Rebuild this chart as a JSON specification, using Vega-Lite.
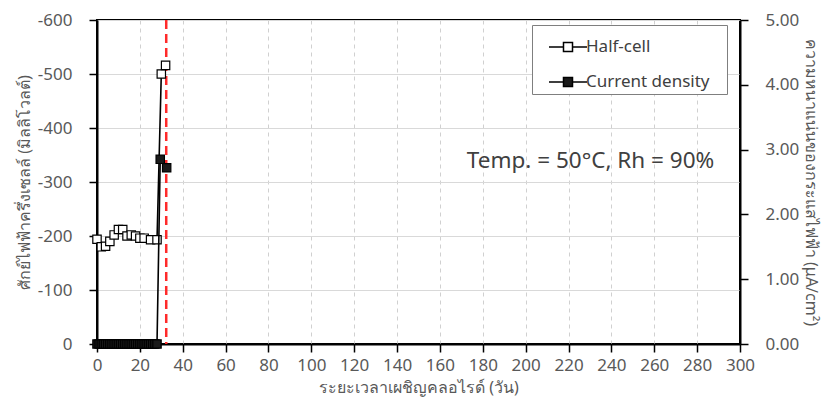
{
  "$schema": "https://vega.github.io/schema/vega-lite/v6.json",
  "width": 643,
  "height": 324,
  "padding": {"left": 16, "top": 11, "right": 5, "bottom": 5},
  "config": {
    "font": "Noto Sans",
    "view": {"stroke": "black", "strokeWidth": 2},
    "axis": {
      "labelFontSize": 17, "labelColor": "#595959", "titleColor": "#595959",
      "titleFontSize": 16, "titleFontWeight": "normal",
      "domainColor": "black", "domainWidth": 2,
      "tickColor": "black", "tickWidth": 1.5, "tickSize": 8
    },
    "axisX": {"labelPadding": 5, "labelFlush": false, "titlePadding": 6},
    "axisLeft": {"labelPadding": 17, "titlePadding": 5},
    "axisRight": {"labelPadding": 17, "titlePadding": 4},
    "legend": {
      "orient": "none", "legendX": 435, "legendY": 5,
      "strokeColor": "#7f7f7f", "fillColor": "white", "padding": 4,
      "labelFontSize": 17, "labelColor": "#404040", "labelOffset": 0,
      "symbolOffset": 14,
      "symbolType": "M-1.118,0H-0.265M0.265,0H1.118M-0.265,-0.265H0.265V0.265H-0.265Z",
      "symbolSize": 1156, "symbolStrokeColor": "black", "symbolStrokeWidth": 1.5,
      "rowPadding": 9,
      "titleOrient": "right", "titlePadding": 9, "titleFontSize": 17, "titleColor": "white"
    }
  },
  "datasets": {
    "main": [
      {"day": 0, "series": "Half-cell", "value": -194},
      {"day": 2, "series": "Half-cell", "value": -180},
      {"day": 4, "series": "Half-cell", "value": -181},
      {"day": 6, "series": "Half-cell", "value": -190},
      {"day": 8, "series": "Half-cell", "value": -202},
      {"day": 10, "series": "Half-cell", "value": -212},
      {"day": 12, "series": "Half-cell", "value": -212},
      {"day": 14, "series": "Half-cell", "value": -200},
      {"day": 16, "series": "Half-cell", "value": -202},
      {"day": 18, "series": "Half-cell", "value": -200},
      {"day": 20, "series": "Half-cell", "value": -196},
      {"day": 22, "series": "Half-cell", "value": -196},
      {"day": 25, "series": "Half-cell", "value": -193},
      {"day": 28, "series": "Half-cell", "value": -193},
      {"day": 30, "series": "Half-cell", "value": -500},
      {"day": 32, "series": "Half-cell", "value": -516},
      {"day": 0, "series": "Current density", "value": 0},
      {"day": 1, "series": "Current density", "value": 0},
      {"day": 2, "series": "Current density", "value": 0},
      {"day": 3, "series": "Current density", "value": 0},
      {"day": 4, "series": "Current density", "value": 0},
      {"day": 5, "series": "Current density", "value": 0},
      {"day": 6, "series": "Current density", "value": 0},
      {"day": 7, "series": "Current density", "value": 0},
      {"day": 8, "series": "Current density", "value": 0},
      {"day": 9, "series": "Current density", "value": 0},
      {"day": 10, "series": "Current density", "value": 0},
      {"day": 11, "series": "Current density", "value": 0},
      {"day": 12, "series": "Current density", "value": 0},
      {"day": 13, "series": "Current density", "value": 0},
      {"day": 14, "series": "Current density", "value": 0},
      {"day": 15, "series": "Current density", "value": 0},
      {"day": 16, "series": "Current density", "value": 0},
      {"day": 17, "series": "Current density", "value": 0},
      {"day": 18, "series": "Current density", "value": 0},
      {"day": 19, "series": "Current density", "value": 0},
      {"day": 20, "series": "Current density", "value": 0},
      {"day": 21, "series": "Current density", "value": 0},
      {"day": 22, "series": "Current density", "value": 0},
      {"day": 23, "series": "Current density", "value": 0},
      {"day": 24, "series": "Current density", "value": 0},
      {"day": 25, "series": "Current density", "value": 0},
      {"day": 26, "series": "Current density", "value": 0},
      {"day": 27, "series": "Current density", "value": 0},
      {"day": 28, "series": "Current density", "value": 0},
      {"day": 29.5, "series": "Current density", "value": 2.85},
      {"day": 32.5, "series": "Current density", "value": 2.72}
    ],
    "cutoff": [{"day": 32.3}],
    "note": [{"day": 288, "value": -339, "label": "Temp. = 50°C, Rh = 90%"}]
  },
  "layer": [
    {
      "layer": [
        {
          "data": {"name": "cutoff"},
          "mark": {"type": "rule", "color": "#ff2a2a", "strokeWidth": 2.5, "strokeDash": [9, 5]},
          "encoding": {
            "x": {"field": "day", "type": "quantitative", "scale": {"domain": [0, 300], "nice": false},
              "axis": {"values": [0,20,40,60,80,100,120,140,160,180,200,220,240,260,280,300],
                "grid": true, "gridColor": "#d0d0d0", "gridDash": [4, 4], "gridWidth": 1,
                "title": "ระยะเวลาเผชิญคลอไรด์ (วัน)"}}
          }
        },
        {
          "data": {"name": "main"},
          "transform": [{"filter": "datum.series == 'Half-cell'"}],
          "mark": {"type": "line", "color": "black", "strokeWidth": 1.6},
          "encoding": {
            "x": {"field": "day", "type": "quantitative"},
            "y": {"field": "value", "type": "quantitative", "scale": {"domain": [0, -600], "nice": false},
              "axis": {"values": [-600,-500,-400,-300,-200,-100,0], "grid": true, "gridColor": "#d9d9d9", "gridWidth": 1,
                "labelExpr": "datum.value == 0 ? '0' : '-' + abs(datum.value)",
                "title": "ศักย์ไฟฟ้าครึ่งเซลล์ (มิลลิโวลต์)"}}
          }
        },
        {
          "data": {"name": "main"},
          "transform": [{"filter": "datum.series == 'Half-cell'"}],
          "mark": {"type": "point", "shape": "square", "filled": true, "size": 70, "stroke": "black", "strokeWidth": 1.2, "opacity": 1},
          "encoding": {
            "x": {"field": "day", "type": "quantitative"},
            "y": {"field": "value", "type": "quantitative"},
            "fill": {"field": "series", "type": "nominal", "scale": {"domain": ["Half-cell", "Current density"], "range": ["white", "#1a1a1a"]},
              "legend": {"title": "."}}
          }
        },
        {
          "data": {"name": "note"},
          "mark": {"type": "text", "align": "right", "baseline": "middle", "fontSize": 22.5, "color": "#404040"},
          "encoding": {
            "x": {"field": "day", "type": "quantitative"},
            "y": {"field": "value", "type": "quantitative"},
            "text": {"field": "label"}
          }
        }
      ]
    },
    {
      "layer": [
        {
          "data": {"name": "main"},
          "transform": [{"filter": "datum.series == 'Current density'"}],
          "mark": {"type": "line", "color": "black", "strokeWidth": 1.6},
          "encoding": {
            "x": {"field": "day", "type": "quantitative"},
            "y": {"field": "value", "type": "quantitative", "scale": {"domain": [0, 5], "nice": false},
              "axis": {"orient": "right", "values": [0,1,2,3,4,5], "format": ".2f", "grid": false,
                "title": "ความหนาแน่นของกระแสไฟฟ้า (μA/cm²)", "titleAngle": 90}}
          }
        },
        {
          "data": {"name": "main"},
          "transform": [{"filter": "datum.series == 'Current density'"}],
          "mark": {"type": "point", "shape": "square", "filled": true, "size": 70, "stroke": "black", "strokeWidth": 1.2, "opacity": 1},
          "encoding": {
            "x": {"field": "day", "type": "quantitative"},
            "y": {"field": "value", "type": "quantitative"},
            "fill": {"field": "series", "type": "nominal", "scale": {"domain": ["Half-cell", "Current density"], "range": ["white", "#1a1a1a"]},
              "legend": {"title": "."}}
          }
        }
      ]
    }
  ],
  "resolve": {"scale": {"y": "independent"}}
}
